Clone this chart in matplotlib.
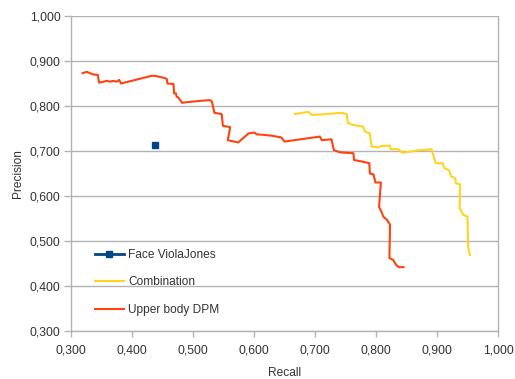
import matplotlib
matplotlib.use("Agg")
import matplotlib.pyplot as plt
from matplotlib.ticker import FuncFormatter, MultipleLocator

plt.rcParams['font.family'] = ['Liberation Sans', 'DejaVu Sans']

# Face ViolaJones: single operating point
face_recall = [0.438]
face_precision = [0.713]

# Combination
comb_recall = [0.667, 0.689, 0.695, 0.719, 0.744, 0.752, 0.754, 0.763, 0.779, 0.782,
               0.790, 0.793, 0.804, 0.809, 0.823, 0.824, 0.837, 0.843, 0.867, 0.891,
               0.898, 0.909, 0.912, 0.920, 0.923, 0.930, 0.931, 0.938, 0.937, 0.943,
               0.950, 0.951, 0.954]
comb_precision = [0.782, 0.787, 0.780, 0.782, 0.785, 0.782, 0.762, 0.758, 0.754, 0.743,
                  0.739, 0.710, 0.708, 0.711, 0.712, 0.704, 0.704, 0.696, 0.701, 0.704,
                  0.673, 0.673, 0.662, 0.657, 0.644, 0.639, 0.628, 0.626, 0.573, 0.558,
                  0.554, 0.487, 0.469]

# Upper body DPM
dpm_recall = [0.319, 0.326, 0.331, 0.337, 0.344, 0.346, 0.350, 0.359, 0.364, 0.369,
              0.375, 0.379, 0.382, 0.432, 0.438, 0.454, 0.457, 0.458, 0.468, 0.469,
              0.472, 0.473, 0.476, 0.482, 0.487, 0.501, 0.517, 0.528, 0.531, 0.535,
              0.547, 0.549, 0.561, 0.557, 0.574, 0.591, 0.601, 0.604, 0.615, 0.629,
              0.637, 0.645, 0.650, 0.708, 0.711, 0.727, 0.731, 0.741, 0.763, 0.764,
              0.779, 0.789, 0.790, 0.796, 0.799, 0.808, 0.805, 0.809, 0.812, 0.818,
              0.823, 0.822, 0.828, 0.833, 0.837, 0.845]
dpm_precision = [0.873, 0.876, 0.873, 0.870, 0.869, 0.852, 0.853, 0.856, 0.854, 0.856,
                 0.854, 0.858, 0.850, 0.867, 0.867, 0.862, 0.860, 0.850, 0.849, 0.828,
                 0.828, 0.821, 0.819, 0.807, 0.808, 0.810, 0.812, 0.813, 0.810, 0.785,
                 0.782, 0.756, 0.753, 0.724, 0.719, 0.739, 0.741, 0.737, 0.736, 0.734,
                 0.732, 0.730, 0.721, 0.732, 0.724, 0.726, 0.702, 0.697, 0.695, 0.680,
                 0.676, 0.673, 0.650, 0.648, 0.630, 0.630, 0.576, 0.565, 0.554, 0.547,
                 0.536, 0.462, 0.458, 0.447, 0.442, 0.442]

grey = '#b3b3b3'
text_col = '#333333'

fig = plt.figure(figsize=(5.15, 3.79), dpi=100)
ax = fig.add_axes([71/515, 1 - 331/379, 427/515, 315/379])

ax.plot(face_recall, face_precision, color='#004586', marker='s', markersize=5,
        linewidth=2, label='Face ViolaJones')
ax.plot(comb_recall, comb_precision, color='#ffd320', linewidth=1.5, label='Combination')
ax.plot(dpm_recall, dpm_precision, color='#ff420e', linewidth=1.5, label='Upper body DPM')

ax.set_xlim(0.3, 1.0)
ax.set_ylim(0.3, 1.0)
ax.xaxis.set_major_locator(MultipleLocator(0.1))
ax.yaxis.set_major_locator(MultipleLocator(0.1))
fmt = FuncFormatter(lambda v, p: ('%.3f' % v).replace('.', ','))
ax.xaxis.set_major_formatter(fmt)
ax.yaxis.set_major_formatter(fmt)

ax.grid(axis='y', color=grey, linewidth=1)
ax.set_axisbelow(True)
for s in ax.spines.values():
    s.set_color(grey)
    s.set_linewidth(1)
ax.spines['top'].set_visible(False)
ax.tick_params(colors=grey, labelcolor=text_col, labelsize=8.8, length=4, width=1)
ax.tick_params(axis='x', pad=5.5)
ax.tick_params(axis='y', length=5, pad=2.5)

ax.set_xlabel('Recall', fontsize=8.6, color=text_col, labelpad=8)
ax.set_ylabel('Precision', fontsize=8.6, color=text_col, labelpad=4)

leg = ax.legend(loc='upper left', bbox_to_anchor=(0.044, 0.275), frameon=False,
                fontsize=8.6, handlelength=2.5, labelspacing=1.28, handletextpad=0.3,
                borderaxespad=0)
for t in leg.get_texts():
    t.set_color(text_col)

fig.savefig('out.png', dpi=100)
